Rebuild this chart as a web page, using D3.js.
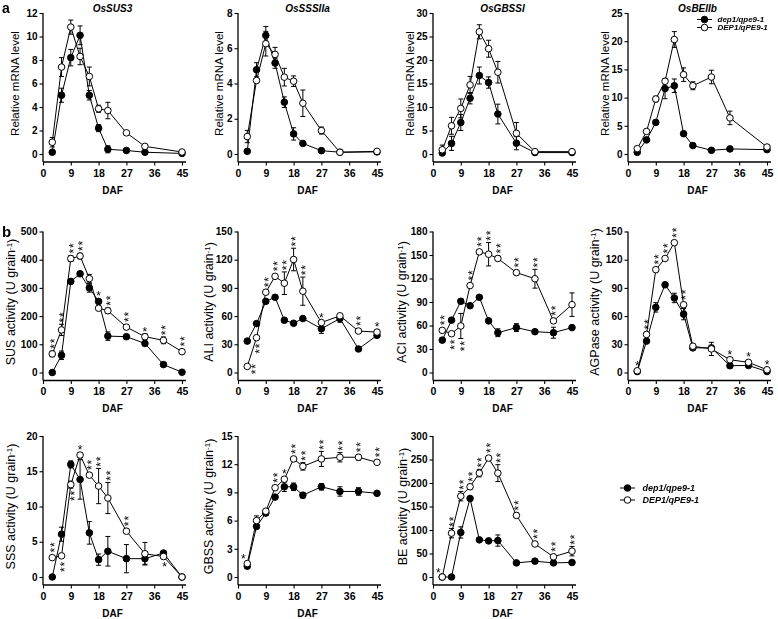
<!DOCTYPE html>
<html><head><meta charset="utf-8">
<script src="https://cdn.jsdelivr.net/npm/d3@7"></script>
<style>body{margin:0;background:#fff}svg{display:block}text{font-family:"Liberation Sans",Arial,sans-serif}.star{filter:grayscale(1)}</style>
</head><body><svg id="c" width="778" height="619"></svg>
<script>
// ---------- DATA ----------
const seriesNames = ["dep1/qpe9-1", "DEP1/qPE9-1"];
const days10 = [3,6,9,12,15,18,21,27,33,45];
const days11 = [3,6,9,12,15,18,21,27,33,39,45];
const xTicks = [0,9,18,27,36,45];

// (a) relative mRNA level
const sus3Dep = [0.15,5.0,8.2,10.1,5.0,2.2,0.4,0.3,0.15,0.05];
const sus3DepErr = [0.1,0.6,0.7,0.8,0.4,0.3,0.3,0.1,0.05,0.05];
const sus3DEP = [1.0,7.4,10.8,8.3,6.6,3.85,3.7,1.8,0.65,0.17];
const sus3DEPErr = [0.4,0.8,0.6,0.7,0.8,0.3,0.7,0.15,0.1,0.1];

const sss2aDep = [0.15,4.78,6.73,5.16,2.94,1.14,0.6,0.19,0.1,0.12];
const sss2aDepErr = [0.1,0.4,0.5,0.3,0.3,0.35,0.1,0.05,0.05,0.05];
const sss2aDEP = [0.99,4.17,6.26,5.65,4.36,4.13,2.88,1.33,0.1,0.15];
const sss2aDEPErr = [0.35,0.1,0.7,0.4,0.5,0.3,0.75,0.2,0.05,0.05];

const gbss1Dep = [0.2,2.26,6.7,11.86,16.7,15.2,8.5,2.3,0.3,0.3];
const gbss1DepErr = [0.3,1.5,1.7,1.2,1.8,1.2,2.1,1.4,0.1,0.1];
const gbss1DEP = [0.9,6.0,9.7,14.7,26.0,22.4,17.4,4.4,0.5,0.5];
const gbss1DEPErr = [1.0,1.8,2.0,1.8,1.5,1.8,2.3,2.3,0.1,0.1];

const be2bDep = [0.3,2.5,5.6,11.6,12.1,3.6,1.5,0.65,0.9,0.77];
const be2bDepErr = [0.1,0.3,0.3,1.8,1.2,0.3,0.2,0.1,0.1,0.1];
const be2bDEP = [0.95,4.0,9.75,12.9,20.3,14.07,12.1,13.65,6.4,1.24];
const be2bDEPErr = [0.2,0.3,0.5,0.3,1.4,1.2,0.7,1.2,1.2,0.2];

// (b) enzyme activities
const susDep = [0,61,323,350,300,252,129,127,103,28,1];
const susDepErr = [2,15,8,8,15,8,15,8,8,5,2];
const susDEP = [66,151,404,413,333,228,219,161,127,114,74];
const susDEPErr = [10,20,10,10,15,8,10,8,10,12,5];
const susStars = ["2a","2a","2a","2a","","1a","2a","2a","1a","2a","2a"];

const aliDep = [33.4,52,75.7,80,55.6,52.4,57.4,46.6,57.4,25,39.5];
const aliDepErr = [2,2,2,2,2,2,2,5,4,2,2];
const aliDEP = [6.5,37,85.4,102.3,95,120.2,86.5,53.1,60.3,44.1,43];
const aliDEPErr = [1,2,2,2,12,12,15,2,2,2,2];
const aliStars = ["2r","2b","2a","2a","2a","2a","2a","1a","","2a","1a"];

const aciDep = [41.3,66.8,90.9,85.3,96,65.9,50.8,57.3,52.1,50.8,57.3];
const aciDepErr = [2,2,3,2,2,2,5,5,2,7,2];
const aciDEP = [53.8,49.5,59.4,111,154,151,145.6,127.5,119.7,65.9,86.6];
const aciDEPErr = [2,2,16,2,3,15,3,3,12,3,15];
const aciStars = ["2a","2b","2b","2a","2a","2a","2a","2a","2a","2a",""];

const agpDep = [1,33.4,69.3,93.3,79.3,62.1,26.2,26.2,7.2,7.5,1];
const agpDepErr = [1,2,5,2,5,6,2,2,2,2,1];
const agpDEP = [1.8,40.5,109.4,121.3,138.1,72.1,28,25.1,13.6,10.8,2.9];
const agpDEPErr = [1,2,2,2,2,2,2,7,2,2,1];
const agpStars = ["1a","2a","2a","2a","2a","2a","","","1a","1a","1a"];

const sssDep = [0,6.07,15.97,13.84,6.26,2.46,3.65,2.6,2.6,3.4,0];
const sssDepErr = [0.1,1,0.5,2.8,1.6,0.8,2.1,2,0.8,0.3,0.1];
const sssDEP = [2.75,3,13.1,17.3,14.45,12.9,11.2,6.5,3.3,2.9,0];
const sssDEPErr = [0.2,0.3,0.5,0.3,0.3,2.5,2.2,0.3,1.6,0.3,0.1];
const sssStars = ["2a","2b","2b","1a","2a","2a","2a","2a","","1b",""];

const gbssDep = [1.15,5.38,6.8,8.5,9.6,9.6,8.7,9.6,9.1,9.1,8.9];
const gbssDepErr = [0.1,0.2,0.2,0.2,0.5,0.4,0.3,0.35,0.5,0.4,0.1];
const gbssDEP = [1.43,6.0,7.0,9.5,10.4,12.56,11.77,12.56,12.74,12.74,12.2];
const gbssDEPErr = [0.1,0.5,0.2,0.2,0.2,0.2,0.4,0.8,0.5,0.3,0.2];
const gbssStars = ["1l","","","2a","1a","2a","2a","2a","2a","2a","2a"];

const beDep = [0,0,94.8,167,79,76.8,77.5,30,33.7,30,30.9];
const beDepErr = [1,1,12,3,3,3,12,3,3,3,3];
const beDEP = [0,93.3,172,192,221,253,221,131,70.3,43,55];
const beDEPErr = [1,10,10,5,8,5,18,5,3,3,10];
const beStars = ["1l","2a","2a","2a","2a","2a","2a","2a","2a","2a","2a"];

// ---------- DRAW ----------
const svg = d3.select("#c");
const R = 3.3;

function panel(c) {
  const zeroY = c.top + 141, axisY = zeroY + 8;
  const xs = d3.scaleLinear().domain([0,45]).range([c.left, c.left + 139]);
  const ys = d3.scaleLinear().domain([0,c.ymax]).range([zeroY, c.top]);
  const g = svg.append("g");

  // y axis
  const yt = d3.range(0, c.ymax + c.ystep/2, c.ystep);
  const ya = g.append("g").attr("transform", `translate(${c.left},0)`)
    .call(d3.axisLeft(ys).tickValues(yt).tickSize(3.5).tickPadding(2).tickSizeOuter(0));
  ya.select(".domain").remove();
  ya.selectAll("text").attr("font-size", 10).attr("font-weight", "bold").attr("fill","#000");
  ya.selectAll("line").attr("stroke","#000").attr("stroke-width",1.1);
  g.append("line").attr("x1",c.left).attr("x2",c.left).attr("y1",c.top).attr("y2",axisY).attr("stroke","#000").attr("stroke-width",1.3);

  // x axis
  const xa = g.append("g").attr("transform", `translate(0,${axisY})`)
    .call(d3.axisBottom(xs).tickValues(xTicks).tickSize(3.5).tickPadding(4).tickSizeOuter(0));
  xa.select(".domain").remove();
  xa.selectAll("text").attr("font-size", 10.5).attr("font-weight", "bold").attr("fill","#000");
  xa.selectAll("line").attr("stroke","#000").attr("stroke-width",1.1);
  g.append("line").attr("x1",c.left).attr("x2",c.left+143).attr("y1",axisY).attr("y2",axisY).attr("stroke","#000").attr("stroke-width",1.3);

  // axis labels
  g.append("text").attr("x", c.left + 69.5).attr("y", axisY + 31.5).attr("text-anchor","middle")
    .attr("font-size",10).attr("font-weight","bold").text("DAF");
  const yl = g.append("text").attr("transform", `translate(${c.ylabX},${(zeroY + c.top)/2}) rotate(-90)`)
    .attr("text-anchor","middle").attr("dy","0.35em").attr("font-size", c.unit ? 12.5 : 11.5);
  if (c.unit) {
    yl.append("tspan").text(c.ylab + " (U grain");
    yl.append("tspan").attr("font-size",8).attr("dy","-0.45em").text("-1");
    yl.append("tspan").attr("dy","0.3em").text(")");
  } else yl.text(c.ylab);
  if (c.title) g.append("text").attr("x", c.left + 69.5).attr("y", c.top - 1.5).attr("text-anchor","middle")
    .attr("font-size",10).attr("font-weight","bold").attr("font-style","italic").text(c.title);

  const series = [{v:c.dep, e:c.depErr, fill:"#000"}, {v:c.DEP, e:c.DEPErr, fill:"#fff"}];
  const line = d3.line().x((d,i)=>xs(c.x[i])).y(d=>ys(d));
  series.forEach(s => g.append("path").attr("d", line(s.v)).attr("fill","none").attr("stroke","#000").attr("stroke-width",1));
  series.forEach(s => {
    s.v.forEach((v,i) => {
      const e = s.e[i]; const x = xs(c.x[i]);
      const y1 = ys(v+e), y2 = ys(v-e);
      g.append("line").attr("x1",x).attr("x2",x).attr("y1",y1).attr("y2",y2).attr("stroke","#000");
      g.append("line").attr("x1",x-2.5).attr("x2",x+2.5).attr("y1",y1).attr("y2",y1).attr("stroke","#000");
      g.append("line").attr("x1",x-2.5).attr("x2",x+2.5).attr("y1",y2).attr("y2",y2).attr("stroke","#000");
    });
  });
  series.forEach(s => {
    g.selectAll(null).data(s.v).enter().append("circle")
      .attr("cx",(d,i)=>xs(c.x[i])).attr("cy",d=>ys(d)).attr("r",R)
      .attr("fill",s.fill).attr("stroke","#000").attr("stroke-width",1);
  });

  // significance stars: "**" is one text rotated to stack vertically
  if (c.stars) {
    const fs = 12, off = 0.57 * fs, gap = 5.5;
    const sg = g.append("g").attr("class","star");
    c.stars.forEach((s,i) => {
      if (!s) return;
      const n = +s[0], p = s[1];
      const x = xs(c.x[i]);
      const v2 = c.DEP[i], e2 = c.DEPErr[i], v1 = c.dep[i], e1 = c.depErr[i];
      let first, sx = x, dir = 1;
      if (p === "a") {
        first = Math.min(ys(v1)-R, ys(v1+e1), ys(v2)-R, ys(v2+e2)) - 4.5; dir = -1;
      } else if (p === "b") {
        first = Math.max(ys(v2)+R, ys(v2-e2)) + 4.5; sx = x + 1;
      } else if (p === "r") {
        sx = x + 6; first = ys(v2) - 0.5;
      } else {
        sx = x - 4; first = ys(v2) - 7;
      }
      if (n === 1) {
        sg.append("text").attr("x",sx).attr("y",first+off).attr("text-anchor","middle")
          .attr("font-size",fs).attr("fill","#000").text("*");
      } else {
        const cy = first + dir * gap / 2;
        sg.append("text").attr("transform",`translate(${sx + off},${cy}) rotate(-90)`)
          .attr("text-anchor","middle").attr("font-size",fs).attr("fill","#000")
          .attr("letter-spacing", gap - 0.389*fs).text("**");
      }
    });
  }
}

const topT = 13, midT = 231.5, botT = 436;
panel({left:43, top:topT, ymax:12, ystep:2, title:"OsSUS3", ylab:"Relative mRNA level", ylabX:15, x:days10, dep:sus3Dep, depErr:sus3DepErr, DEP:sus3DEP, DEPErr:sus3DEPErr});
panel({left:238, top:topT, ymax:8, ystep:2, title:"OsSSSIIa", ylab:"Relative mRNA level", ylabX:219, x:days10, dep:sss2aDep, depErr:sss2aDepErr, DEP:sss2aDEP, DEPErr:sss2aDEPErr});
panel({left:433, top:topT, ymax:30, ystep:5, title:"OsGBSSI", ylab:"Relative mRNA level", ylabX:410, x:days10, dep:gbss1Dep, depErr:gbss1DepErr, DEP:gbss1DEP, DEPErr:gbss1DEPErr});
panel({left:628, top:topT, ymax:25, ystep:5, title:"OsBEIIb", ylab:"Relative mRNA level", ylabX:605, x:days10, dep:be2bDep, depErr:be2bDepErr, DEP:be2bDEP, DEPErr:be2bDEPErr});

panel({left:43, top:midT, ymax:500, ystep:100, ylab:"SUS activity", unit:true, ylabX:11, x:days11, dep:susDep, depErr:susDepErr, DEP:susDEP, DEPErr:susDEPErr, stars:susStars});
panel({left:238, top:midT, ymax:150, ystep:30, ylab:"ALI activity", unit:true, ylabX:209, x:days11, dep:aliDep, depErr:aliDepErr, DEP:aliDEP, DEPErr:aliDEPErr, stars:aliStars});
panel({left:433, top:midT, ymax:180, ystep:30, ylab:"ACI activity", unit:true, ylabX:402, x:days11, dep:aciDep, depErr:aciDepErr, DEP:aciDEP, DEPErr:aciDEPErr, stars:aciStars});
panel({left:628, top:midT, ymax:150, ystep:30, ylab:"AGPase activity", unit:true, ylabX:595, x:days11, dep:agpDep, depErr:agpDepErr, DEP:agpDEP, DEPErr:agpDEPErr, stars:agpStars});

panel({left:43, top:botT, ymax:20, ystep:5, ylab:"SSS activity", unit:true, ylabX:11, x:days11, dep:sssDep, depErr:sssDepErr, DEP:sssDEP, DEPErr:sssDEPErr, stars:sssStars});
panel({left:238, top:botT, ymax:15, ystep:3, ylab:"GBSS activity", unit:true, ylabX:209, x:days11, dep:gbssDep, depErr:gbssDepErr, DEP:gbssDEP, DEPErr:gbssDEPErr, stars:gbssStars});
panel({left:433, top:botT, ymax:300, ystep:50, ylab:"BE activity", unit:true, ylabX:403, x:days11, dep:beDep, depErr:beDepErr, DEP:beDEP, DEPErr:beDEPErr, stars:beStars});

// panel letters
svg.append("text").attr("x",2).attr("y",12.5).attr("font-size",14).attr("font-weight","bold").text("a");
svg.append("text").attr("x",2).attr("y",237).attr("font-size",15).attr("font-weight","bold").text("b");

// legends
function legend(x0, y0, dy, fs, lineHalf, textGap) {
  const fills = ["#000","#fff"];
  seriesNames.forEach((name,i) => {
    const y = y0 + i*dy;
    svg.append("line").attr("x1",x0-lineHalf).attr("x2",x0+lineHalf).attr("y1",y).attr("y2",y).attr("stroke","#000");
    svg.append("circle").attr("cx",x0).attr("cy",y).attr("r",R).attr("fill",fills[i]).attr("stroke","#000");
    svg.append("text").attr("x",x0+textGap).attr("y",y).attr("dy","0.35em").attr("font-size",fs)
      .attr("font-weight","bold").attr("font-style","italic").text(name);
  });
}
legend(704.5, 19.5, 8, 8, 7.5, 13);
legend(627.5, 488, 12, 9, 7.5, 15);
</script></body></html>
